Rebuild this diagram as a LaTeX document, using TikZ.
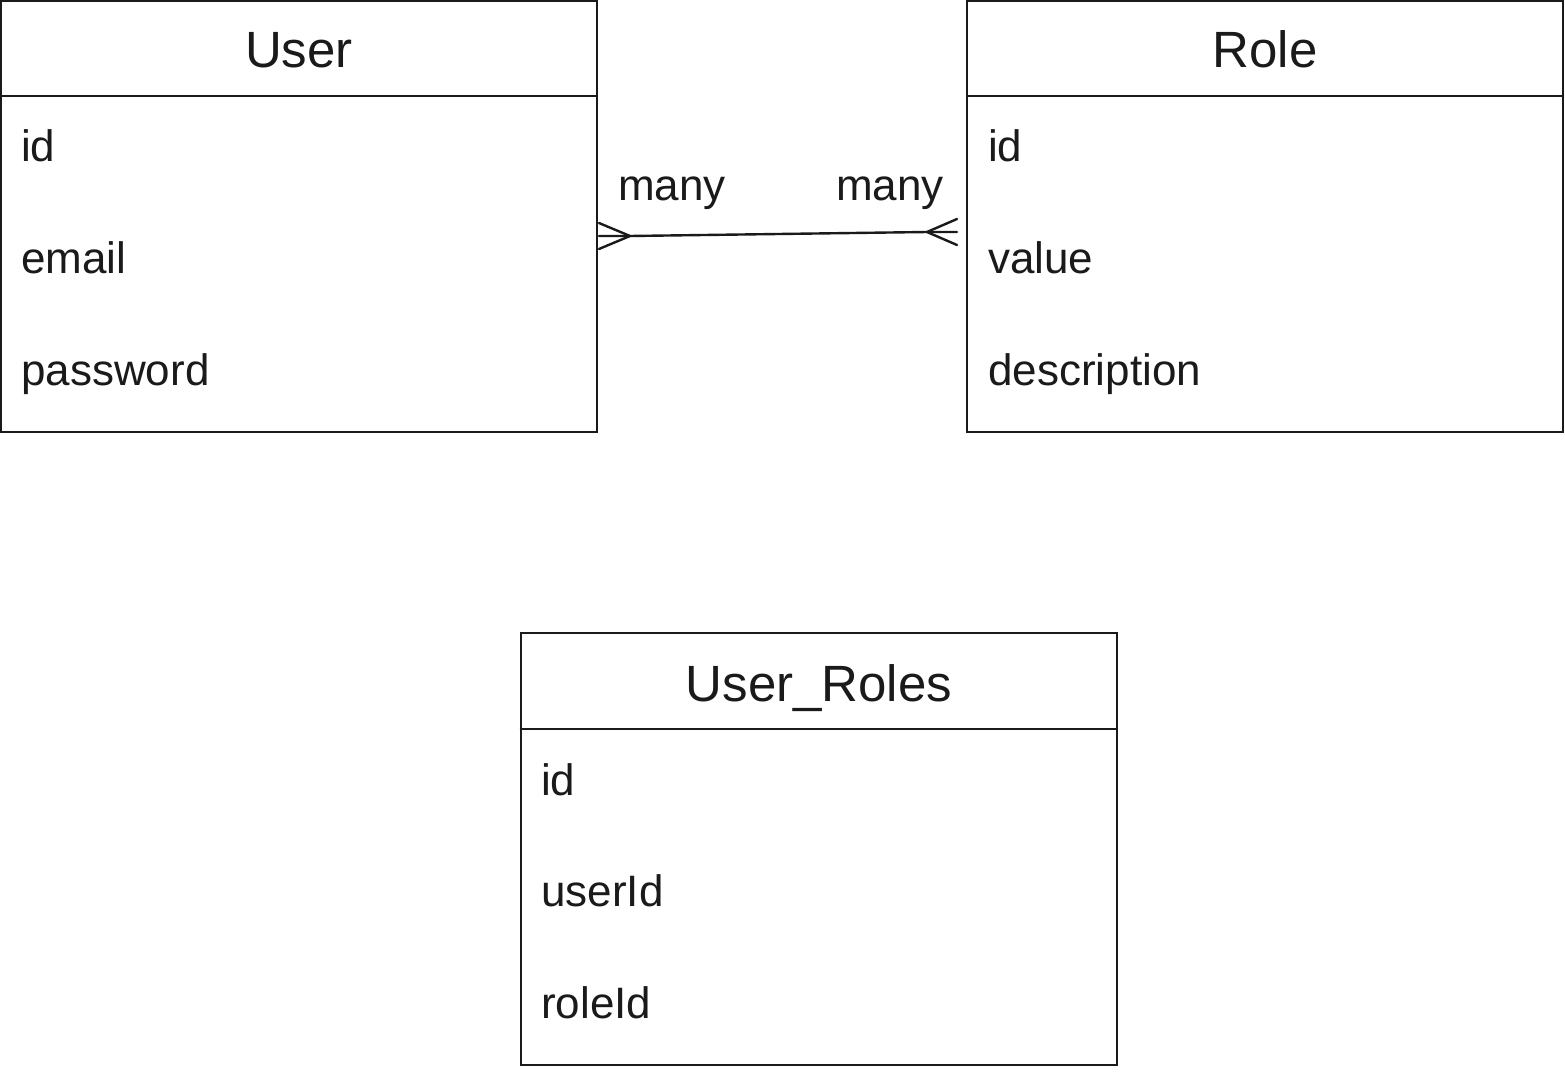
\documentclass[tikz,border=0pt]{standalone}
\usepackage{fontspec}
\setmainfont{Liberation Sans}
\usetikzlibrary{calc}
\definecolor{ink}{HTML}{1A1A1A}
\begin{document}
\begin{tikzpicture}[x=1pt,y=-1pt,
  entity/.style={draw=ink,line width=2.6pt,minimum width=596pt,minimum height=431pt,
    inner sep=0pt,outer sep=0pt,anchor=north west},
  title/.style={font=\fontsize{51}{60}\selectfont,text=ink,anchor=base,inner sep=0pt},
  field/.style={font=\fontsize{44}{52}\selectfont,text=ink,anchor=base west,inner sep=0pt},
  rel/.style={draw=ink,line width=2.6pt,line cap=round,line join=round},
  card/.style={font=\fontsize{44}{52}\selectfont,text=ink,anchor=base,inner sep=0pt}]
\useasboundingbox (0,0) rectangle (1565,1075);

% User entity
\node[entity] (user) at (1,1) {};
\draw[rel] ($(user.north west)+(0,95)$) -- ($(user.north east)+(0,95)$);
\node[title] (userT) at ($(user.north)+(0,67)$) {User};
\node[field] (userF1) at ($(user.north west)+(20,161)$) {id};
\node[field] (userF2) at ($(user.north west)+(20,272.5)$) {email};
\node[field] (userF3) at ($(user.north west)+(20,384)$) {password};

% Role entity
\node[entity] (role) at (967,1) {};
\draw[rel] ($(role.north west)+(0,95)$) -- ($(role.north east)+(0,95)$);
\node[title] (roleT) at ($(role.north)+(0,67)$) {Role};
\node[field] (roleF1) at ($(role.north west)+(21,161)$) {id};
\node[field] (roleF2) at ($(role.north west)+(21,272.5)$) {value};
\node[field] (roleF3) at ($(role.north west)+(21,384)$) {description};

% User_Roles join table
\node[entity,minimum height=432pt] (ur) at (521,633) {};
\draw[rel] ($(ur.north west)+(0,96)$) -- ($(ur.north east)+(0,96)$);
\node[title] (urT) at ($(ur.north)+(0,68)$) {User\_Roles};
\node[field] (urF1) at ($(ur.north west)+(20,162)$) {id};
\node[field] (urF2) at ($(ur.north west)+(20,273.5)$) {userId};
\node[field] (urF3) at ($(ur.north west)+(20,385)$) {roleId};

% many-to-many relation with crow's feet
\coordinate (uEnd) at ($(user.north east)+(2,235)$);
\coordinate (rEnd) at ($(role.north west)+(-10,231)$);
\coordinate (uFoot) at ($(uEnd)+(31,0)$);
\coordinate (rFoot) at ($(rEnd)+(-30,0)$);
\draw[rel,line width=2.4pt] (uEnd) -- (uFoot) -- (rFoot) -- (rEnd);
\draw[rel,line width=2.4pt] ($(uEnd)+(0,-13)$) -- (uFoot) -- ($(uEnd)+(0,13)$);
\draw[rel,line width=2.4pt] ($(rEnd)+(0,-13)$) -- (rFoot) -- ($(rEnd)+(0,13)$);
\node[card] (mU) at ($(uEnd)+(73,-35)$) {many};
\node[card] (mR) at ($(rEnd)+(-67,-31)$) {many};
\end{tikzpicture}
\end{document}
